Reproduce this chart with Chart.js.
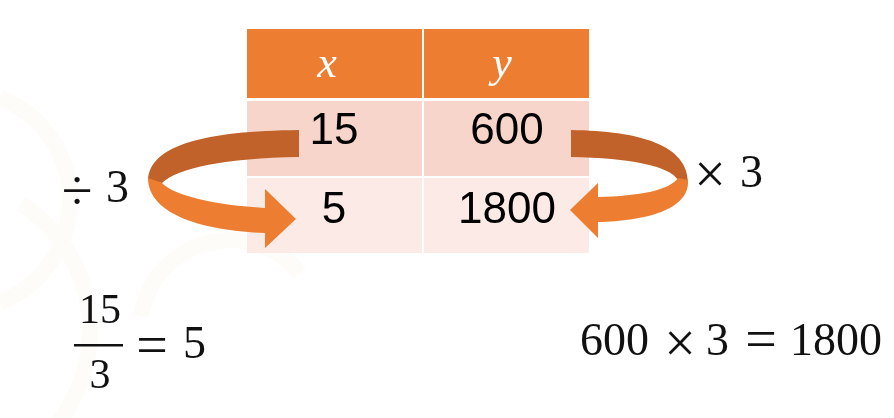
<!DOCTYPE html>
<html>
<head>
<meta charset="utf-8">
<script src="https://cdn.jsdelivr.net/npm/chart.js@4"></script>
<style>
  html, body { margin: 0; padding: 0; background: #ffffff; }
  #wrap { width: 894px; height: 418px; position: relative; }
</style>
</head>
<body>
<div id="wrap"><canvas id="myChart"></canvas></div>
<script>
// table data
const headers = ['x', 'y'];
const xValues = [15, 5];
const yValues = [600, 1800];
const factor = 3;

// colours
const headColor = '#ED7D31';
const rowColors = ['#F8D5CA', '#FBEAE5'];
const darkBand = '#C1622A';
const lightBand = '#ED7D31';

// cell grid in scale units (canvas is 0..894 x 0..418)
const colEdges = [[247, 422], [424, 589]];
const rowEdges = [[29, 98], [101, 176], [178, 253]];

const tablePlugin = {
  id: 'tablePlugin',
  afterDraw(chart) {
    const ctx = chart.ctx;
    const sx = chart.scales.x, sy = chart.scales.y;
    const X = v => sx.getPixelForValue(v);
    const Y = v => sy.getPixelForValue(v);

    // very faint background pattern on the left
    ctx.save();
    ctx.strokeStyle = '#FDFCF8';
    ctx.lineWidth = 16;
    ctx.beginPath(); ctx.arc(X(-40), Y(200), 110, -1.2, 1.2); ctx.stroke();
    ctx.beginPath(); ctx.arc(X(-60), Y(330), 150, -1.0, 1.0); ctx.stroke();
    ctx.beginPath(); ctx.arc(X(230), Y(330), 90, 3.3, 5.6); ctx.stroke();
    ctx.restore();

    // cells
    for (let c = 0; c < 2; c++) {
      ctx.fillStyle = headColor;
      ctx.fillRect(X(colEdges[c][0]), Y(rowEdges[0][0]),
        X(colEdges[c][1]) - X(colEdges[c][0]), Y(rowEdges[0][1]) - Y(rowEdges[0][0]));
      for (let r = 0; r < xValues.length; r++) {
        ctx.fillStyle = rowColors[r];
        ctx.fillRect(X(colEdges[c][0]), Y(rowEdges[r + 1][0]),
          X(colEdges[c][1]) - X(colEdges[c][0]), Y(rowEdges[r + 1][1]) - Y(rowEdges[r + 1][0]));
      }
    }

    // header text
    ctx.fillStyle = '#ffffff';
    ctx.font = 'italic 44px "Liberation Serif"';
    ctx.textAlign = 'center';
    ctx.textBaseline = 'alphabetic';
    ctx.fillText(headers[0], X(327), Y(77));
    ctx.fillText(headers[1], X(502), Y(77));

    // body text
    ctx.fillStyle = '#000000';
    ctx.font = '44px "Liberation Sans"';
    ctx.textBaseline = 'middle';
    const colMid = [334, 507];
    const rowMid = [132, 211];
    for (let r = 0; r < xValues.length; r++) {
      ctx.fillText(String(xValues[r]), X(colMid[0]), Y(rowMid[r]));
      ctx.fillText(String(yValues[r]), X(colMid[1]), Y(rowMid[r]));
    }

    drawArrows(ctx, X, Y);

    // operators beside arrows
    ctx.fillStyle = '#111111';
    ctx.textBaseline = 'alphabetic';
    const num = '46px "Liberation Serif"';
    const op = '56px "Liberation Serif"';
    const opText = (t, cx, cy, off) => {
      ctx.font = op;
      ctx.textAlign = 'center';
      ctx.fillText(t, X(cx), Y(cy + off));
    };
    const numText = (t, left, base) => {
      ctx.font = num;
      ctx.textAlign = 'left';
      ctx.fillText(t, X(left), Y(base));
    };

    opText('\u00F7', 77, 192, 18);
    numText(String(factor), 106, 202);
    opText('\u00D7', 710, 172, 21);
    numText(String(factor), 740, 187);

    // fraction 15 / 3 = 5
    ctx.font = '42px "Liberation Serif"';
    ctx.textAlign = 'center';
    ctx.fillText(String(xValues[0]), X(100), Y(323));
    ctx.fillText(String(factor), X(100), Y(388));
    ctx.fillRect(X(74), Y(344), X(123) - X(74), 2.5);
    opText('=', 152, 347, 17);
    numText(String(xValues[1]), 183, 358);

    // 600 × 3 = 1800
    numText(String(yValues[0]), 580, 355);
    opText('\u00D7', 680, 341, 21);
    numText(String(factor), 706, 355);
    opText('=', 761, 341, 17);
    numText(String(yValues[1]), 790, 355);
  }
};

function drawArrows(ctx, X, Y) {
  // left arrow (÷)
  ctx.fillStyle = darkBand;
  ctx.beginPath();
  ctx.moveTo(X(299), Y(130));
  ctx.bezierCurveTo(X(205), Y(131), X(150), Y(145), X(148), Y(180));
  ctx.lineTo(X(162), Y(183));
  ctx.bezierCurveTo(X(178), Y(168), X(225), Y(158), X(299), Y(157));
  ctx.closePath();
  ctx.fill();

  ctx.fillStyle = lightBand;
  ctx.beginPath();
  ctx.moveTo(X(148), Y(178));
  ctx.bezierCurveTo(X(148), Y(215), X(205), Y(231), X(265), Y(233));
  ctx.lineTo(X(265), Y(248));
  ctx.lineTo(X(296), Y(219));
  ctx.lineTo(X(265), Y(189));
  ctx.lineTo(X(265), Y(208));
  ctx.bezierCurveTo(X(215), Y(205), X(175), Y(196), X(162), Y(183));
  ctx.closePath();
  ctx.fill();

  // right arrow (×)
  ctx.fillStyle = darkBand;
  ctx.beginPath();
  ctx.moveTo(X(571), Y(130));
  ctx.bezierCurveTo(X(640), Y(131), X(688), Y(145), X(688), Y(183));
  ctx.lineTo(X(678), Y(180));
  ctx.bezierCurveTo(X(670), Y(166), X(630), Y(158), X(571), Y(157));
  ctx.closePath();
  ctx.fill();

  ctx.fillStyle = lightBand;
  ctx.beginPath();
  ctx.moveTo(X(688), Y(180));
  ctx.bezierCurveTo(X(690), Y(210), X(645), Y(221), X(598), Y(222));
  ctx.lineTo(X(598), Y(238));
  ctx.lineTo(X(570), Y(210));
  ctx.lineTo(X(598), Y(183));
  ctx.lineTo(X(598), Y(197));
  ctx.bezierCurveTo(X(640), Y(196), X(670), Y(190), X(678), Y(178));
  ctx.closePath();
  ctx.fill();
}

const data = {
  datasets: [{
    type: 'scatter',
    label: 'table',
    data: [],
    pointRadius: 0
  }]
};

const config = {
  type: 'scatter',
  data: data,
  options: {
    responsive: true,
    maintainAspectRatio: false,
    animation: false,
    layout: { padding: 0 },
    plugins: {
      legend: { display: false },
      tooltip: { enabled: false }
    },
    scales: {
      x: { type: 'linear', min: 0, max: 894, display: false },
      y: { type: 'linear', min: 0, max: 418, reverse: true, display: false }
    }
  },
  plugins: [tablePlugin]
};

const chart = new Chart(document.getElementById('myChart').getContext('2d'), config);
</script>
</body>
</html>
